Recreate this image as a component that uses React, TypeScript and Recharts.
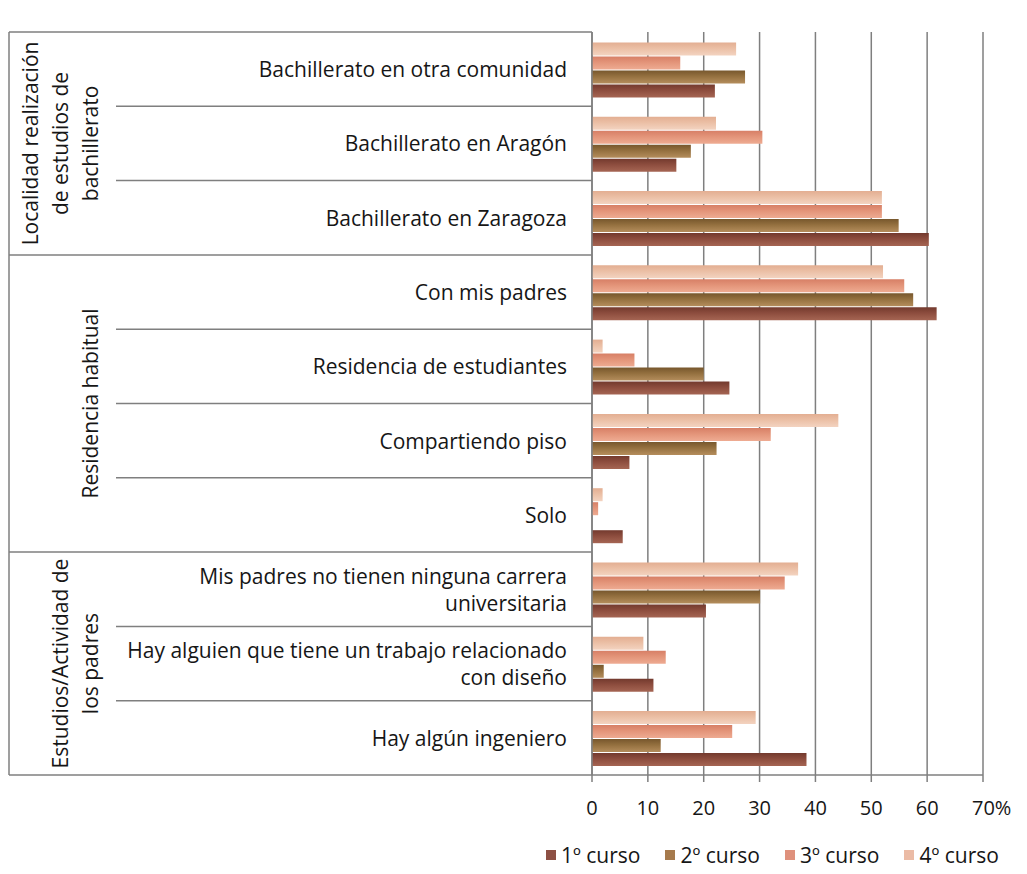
import React from "react";
import { Bar, BarChart, CartesianGrid, Legend, XAxis, YAxis } from "recharts";

const FONT = "'Open Sans', sans-serif";
const TEXT = "#161616";
const LINE = "#7f7f7f";

// categories, top to bottom (multi-line labels split in arrays)
const CATEGORY_LINES = [
  ["Bachillerato en otra comunidad"],
  ["Bachillerato en Aragón"],
  ["Bachillerato en Zaragoza"],
  ["Con mis padres"],
  ["Residencia de estudiantes"],
  ["Compartiendo piso"],
  ["Solo"],
  ["Mis padres no tienen ninguna carrera", "universitaria"],
  ["Hay alguien que tiene un trabajo  relacionado", "con diseño"],
  ["Hay algún ingeniero"],
];
const CATEGORIES = CATEGORY_LINES.map((l) => l.join(" "));

const GROUP_LABELS = [
  ["Localidad realización", "de estudios de", "bachillerato"],
  ["Residencia habitual"],
  ["Estudios/Actividad de", "los padres"],
];
const GROUP_SIZES = [3, 4, 3];

// % per course
const CURSO_1 = [22.0, 15.1, 60.3, 61.7, 24.6, 6.7, 5.5, 20.4, 11.0, 38.4];
const CURSO_2 = [27.4, 17.7, 54.9, 57.5, 20.0, 22.3, 0, 30.1, 2.1, 12.3];
const CURSO_3 = [15.8, 30.5, 51.9, 55.9, 7.6, 32.0, 1.1, 34.5, 13.2, 25.1];
const CURSO_4 = [25.8, 22.2, 51.9, 52.1, 1.9, 44.1, 1.9, 36.9, 9.2, 29.3];

const X_TICKS = [0, 10, 20, 30, 40, 50, 60, 70];

const data = CATEGORIES.map((c, i) => ({
  cat: c,
  c1: CURSO_1[i],
  c2: CURSO_2[i],
  c3: CURSO_3[i],
  c4: CURSO_4[i],
}));

// drawn top->bottom inside each category: 4º, 3º, 2º, 1º
const SERIES = [
  { key: "c4", name: "4º curso", top: "#e3ae92", mid: "#ebbfa5", bot: "#f3d3c0", swatch: "#ebbba5" },
  { key: "c3", name: "3º curso", top: "#d77f66", mid: "#e39479", bot: "#eeab92", swatch: "#df917c" },
  { key: "c2", name: "2º curso", top: "#77572d", mid: "#94703f", bot: "#b48d5c", swatch: "#a67a4c" },
  { key: "c1", name: "1º curso", top: "#733a2e", mid: "#8d4d3e", bot: "#a56553", swatch: "#8d5044" },
];

const W = 1005;
const H = 858;
const MARGIN = { top: 24, right: 30, left: 0, bottom: 20 };
const Y_AXIS_W = 584;
const PLOT_H = 743;
const BAND = PLOT_H / CATEGORIES.length;
const LABEL_RIGHT = 559;
const INNER_LINE_X = 108;
const LABEL_SIZE = 21;

function CategoryTick(props: any) {
  const { y, payload } = props;
  const idx = CATEGORIES.indexOf(payload.value);
  const half = BAND / 2;
  const top = y - half;
  const lines = CATEGORY_LINES[idx] || [];

  // is this the first category of a group?
  let start = 0;
  let groupIdx = -1;
  GROUP_SIZES.forEach((n, g) => {
    if (start === idx) groupIdx = g;
    start += n;
  });

  const els: React.ReactNode[] = [];
  els.push(
    <line
      key="sep"
      x1={groupIdx >= 0 ? 1 : INNER_LINE_X}
      x2={Y_AXIS_W}
      y1={top}
      y2={top}
      stroke={LINE}
      strokeWidth={1.5}
    />,
  );
  if (idx === CATEGORIES.length - 1) {
    els.push(<line key="bottom" x1={1} x2={Y_AXIS_W} y1={y + half} y2={y + half} stroke={LINE} strokeWidth={1.5} />);
  }
  if (idx === 0) {
    els.push(
      <line key="left" x1={1} x2={1} y1={top} y2={top + BAND * CATEGORIES.length} stroke={LINE} strokeWidth={1.5} />,
    );
  }
  if (groupIdx >= 0) {
    const g = GROUP_LABELS[groupIdx];
    const cy = top + (GROUP_SIZES[groupIdx] * BAND) / 2;
    g.forEach((t, i) => {
      const cx = 82 - (g.length - 1 - i) * 30;
      els.push(
        <text
          key={`g${i}`}
          x={cx}
          y={cy}
          transform={`rotate(-90, ${cx}, ${cy})`}
          textAnchor="middle"
          dominantBaseline="central"
          fontSize={LABEL_SIZE}
          fontFamily={FONT}
          fill={TEXT}
        >
          {t}
        </text>,
      );
    });
  }
  const lh = 27;
  lines.forEach((t, i) => {
    els.push(
      <text
        key={`l${i}`}
        x={LABEL_RIGHT}
        y={y + (i - (lines.length - 1) / 2) * lh}
        textAnchor="end"
        dominantBaseline="central"
        fontSize={LABEL_SIZE}
        fontFamily={FONT}
        fill={TEXT}
      >
        {t}
      </text>,
    );
  });
  return <g>{els}</g>;
}

function ValueTick(props: any) {
  const { x, y, payload } = props;
  const v = payload.value;
  return (
    <text
      x={v === 70 ? x - 11 : x}
      y={y + 31}
      textAnchor={v === 70 ? "start" : "middle"}
      fontSize={20}
      fontFamily={FONT}
      fill={TEXT}
    >
      {v === 70 ? "70%" : v}
    </text>
  );
}

function LegendBox() {
  const order = ["c1", "c2", "c3", "c4"].map((k) => SERIES.find((s) => s.key === k)!);
  return (
    <div style={{ display: "flex", gap: 25, fontFamily: FONT, fontSize: 21, lineHeight: "22px", color: TEXT }}>
      {order.map((s) => (
        <div key={s.key} style={{ display: "flex", alignItems: "center", gap: 5 }}>
          <span style={{ width: 10, height: 10, background: s.swatch, display: "inline-block" }} />
          <span>{s.name}</span>
        </div>
      ))}
    </div>
  );
}

export default function App() {
  return (
    <div style={{ width: W, height: H, background: "#fff" }}>
      <BarChart
        width={W}
        height={H}
        data={data}
        layout="vertical"
        margin={MARGIN}
        barCategoryGap="14%"
        barGap={1}
      >
        <defs>
          {SERIES.map((s) => (
            <linearGradient key={s.key} id={`g-${s.key}`} x1="0" y1="0" x2="0" y2="1">
              <stop offset="0%" stopColor={s.top} />
              <stop offset="45%" stopColor={s.mid} />
              <stop offset="100%" stopColor={s.bot} />
            </linearGradient>
          ))}
        </defs>
        <CartesianGrid vertical horizontal={false} stroke={LINE} strokeWidth={1.5} />
        <XAxis
          type="number"
          domain={[0, 70]}
          ticks={X_TICKS}
          tick={<ValueTick />}
          axisLine={{ stroke: LINE, strokeWidth: 1.5 }}
          tickLine={{ stroke: LINE, strokeWidth: 1.5 }}
          tickSize={7}
          height={40}
        />
        <YAxis
          type="category"
          dataKey="cat"
          width={Y_AXIS_W}
          tick={<CategoryTick />}
          axisLine={{ stroke: LINE, strokeWidth: 1.5 }}
          tickLine={false}
          interval={0}
        />
        <Legend
          verticalAlign="bottom"
          height={31}
          content={() => <LegendBox />}
          wrapperStyle={{ left: 538, width: 480, top: 836 }}
        />
        {SERIES.map((s) => (
          <Bar key={s.key} dataKey={s.key} name={s.name} fill={`url(#g-${s.key})`} isAnimationActive={false} />
        ))}
      </BarChart>
    </div>
  );
}
